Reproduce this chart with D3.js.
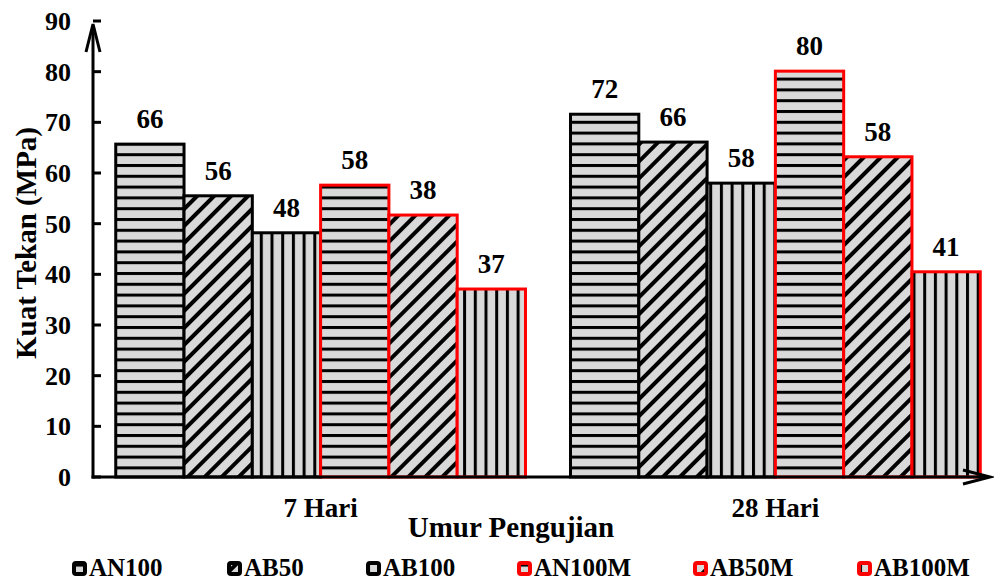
<!DOCTYPE html>
<html><head><meta charset="utf-8">
<script src="https://cdn.jsdelivr.net/npm/d3@7"></script>
<style>body{margin:0;background:#fff}text{font-family:"Liberation Serif","Times New Roman",serif;font-weight:bold}</style>
</head><body><svg id="c" width="994" height="580"></svg>
<script>
const categories = ["7 Hari", "28 Hari"];
const seriesNames = ["AN100", "AB50", "AB100", "AN100M", "AB50M", "AB100M"];
const seriesValues = [[65.7, 71.6], [55.5, 66.1], [48.2, 58.0], [57.6, 80.1], [51.7, 63.2], [37.1, 40.5]];
const seriesLabels = [["66", "72"], ["56", "66"], ["48", "58"], ["58", "80"], ["38", "58"], ["37", "41"]];
const yTicks = [0, 10, 20, 30, 40, 50, 60, 70, 80, 90];
const seriesPattern = ["h", "d", "v", "h", "d", "v"];
const seriesStroke = ["#000", "#000", "#000", "#f00", "#f00", "#f00"];

const svg = d3.select("#c");
const x0 = 93, y0 = 477;
const y = d3.scaleLinear().domain([0, 90]).range([y0, 21]);
const x = d3.scaleBand().domain(categories).range([x0, 1003]).paddingInner(0.099).paddingOuter(0.05);
const xs = d3.scaleBand().domain(seriesNames).range([0, x.bandwidth()]);

const defs = svg.append("defs");
function pat(id, type) {
  let p;
  if (type === "h") {
    p = defs.append("pattern").attr("id", id).attr("patternUnits", "userSpaceOnUse").attr("width", 10).attr("height", 10.8).attr("y", 2);
    p.append("rect").attr("width", 10).attr("height", 10.8).attr("fill", "#d9d9d9");
    p.append("rect").attr("y", 0).attr("width", 10).attr("height", 3).attr("fill", "#000");
  } else if (type === "v") {
    p = defs.append("pattern").attr("id", id).attr("patternUnits", "userSpaceOnUse").attr("width", 10.7).attr("height", 10).attr("x", 3);
    p.append("rect").attr("width", 10.7).attr("height", 10).attr("fill", "#d9d9d9");
    p.append("rect").attr("x", 0).attr("width", 3).attr("height", 10).attr("fill", "#000");
  } else {
    p = defs.append("pattern").attr("id", id).attr("patternUnits", "userSpaceOnUse").attr("width", 12).attr("height", 12).attr("patternTransform", "rotate(45)");
    p.append("rect").attr("width", 12).attr("height", 12).attr("fill", "#d9d9d9");
    p.append("rect").attr("x", 0).attr("width", 4).attr("height", 12).attr("fill", "#000");
  }
}
pat("ph", "h"); pat("pv", "v"); pat("pd", "d");

// bars
const g = svg.append("g");
categories.forEach((c, ci) => {
  seriesNames.forEach((s, si) => {
    const v = seriesValues[si][ci];
    const bx = x(c) + xs(s);
    g.append("rect").attr("x", bx).attr("y", y(v)).attr("width", xs.bandwidth()).attr("height", y0 - y(v))
      .attr("fill", "url(#p" + seriesPattern[si] + ")").attr("stroke", seriesStroke[si]).attr("stroke-width", 3);
    g.append("text").attr("x", bx + xs.bandwidth() / 2).attr("y", y(v) - 16).attr("text-anchor", "middle")
      .attr("font-size", 27).text(seriesLabels[si][ci]);
  });
});

// y axis
const ya = svg.append("g");
ya.append("line").attr("x1", x0).attr("x2", x0).attr("y1", y0 + 1.5).attr("y2", 26).attr("stroke", "#000").attr("stroke-width", 3);
ya.append("path").attr("d", `M${x0 - 7},${52} L${x0},${24} L${x0 + 7},${52}`).attr("fill", "none").attr("stroke", "#000").attr("stroke-width", 3).attr("stroke-linejoin", "miter");
yTicks.forEach(t => {
  ya.append("line").attr("x1", x0).attr("x2", x0 + 8).attr("y1", y(t)).attr("y2", y(t)).attr("stroke", "#000").attr("stroke-width", 3);
  ya.append("text").attr("x", 71).attr("y", y(t) + 9).attr("text-anchor", "end").attr("font-size", 26).text(t);
});
svg.append("text").attr("transform", "translate(36,243) rotate(-90)").attr("text-anchor", "middle").attr("font-size", 29).text("Kuat Tekan (MPa)");

// x axis
const xa = svg.append("g");
xa.append("line").attr("x1", x0 - 1.5).attr("x2", 988).attr("y1", y0).attr("y2", y0).attr("stroke", "#000").attr("stroke-width", 3);
xa.append("path").attr("d", `M${963},${y0 - 7} L${990},${y0} L${963},${y0 + 7}`).attr("fill", "none").attr("stroke", "#000").attr("stroke-width", 3);
categories.forEach(c => {
  xa.append("text").attr("x", x(c) + x.bandwidth() / 2).attr("y", 517).attr("text-anchor", "middle").attr("font-size", 27).text(c);
});
svg.append("text").attr("x", 511).attr("y", 537).attr("text-anchor", "middle").attr("font-size", 29).text("Umur Pengujian");

// legend
const legX = [72, 227, 366, 517, 693, 857];
const lg = svg.append("g");
seriesNames.forEach((s, i) => {
  lg.append("rect").attr("x", legX[i] + 2).attr("y", 563).attr("width", 11).attr("height", 11).attr("rx", 2)
    .attr("fill", "url(#p" + seriesPattern[i] + ")").attr("stroke", seriesStroke[i]).attr("stroke-width", 4);
  lg.append("text").attr("x", legX[i] + 17).attr("y", 576).attr("font-size", 25).text(s);
});
</script></body></html>
